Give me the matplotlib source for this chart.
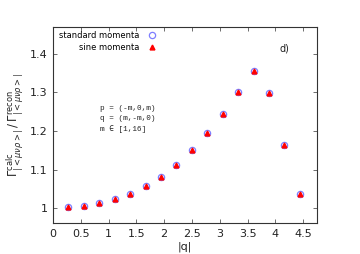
import matplotlib
matplotlib.use('Agg')
import matplotlib.pyplot as plt
from matplotlib.ticker import FuncFormatter, MultipleLocator

# |q| values for m = 1..16
q_abs = [0.278, 0.555, 0.833, 1.111, 1.388, 1.666, 1.944, 2.221,
         2.499, 2.777, 3.054, 3.332, 3.610, 3.887, 4.165, 4.443]
# ratio, standard momenta
ratio_standard = [1.003, 1.006, 1.013, 1.024, 1.038, 1.057, 1.082, 1.111,
                  1.150, 1.196, 1.245, 1.301, 1.355, 1.298, 1.163, 1.038]
# ratio, sine momenta
ratio_sine = [1.003, 1.006, 1.013, 1.024, 1.038, 1.057, 1.082, 1.111,
              1.150, 1.196, 1.245, 1.301, 1.355, 1.298, 1.163, 1.038]

fig = plt.figure(figsize=(3.6, 2.54), dpi=100)
ax = fig.add_axes([53 / 360, 1 - 223 / 254, (317 - 53) / 360, (223 - 27) / 254])

ax.plot(q_abs, ratio_standard, 'o', ms=4.5, mfc='none', mec='#7f7fff', mew=0.9,
        label='standard momenta')
ax.plot(q_abs, ratio_sine, '^', ms=3.5, color='red', mec='red',
        label='sine momenta')

ax.set_xlim(0, 4.75)
ax.set_ylim(0.962, 1.469)
ax.xaxis.set_major_locator(MultipleLocator(0.5))
ax.yaxis.set_major_locator(MultipleLocator(0.1))
fmt = FuncFormatter(lambda v, p: '%g' % round(v, 2))
ax.xaxis.set_major_formatter(fmt)
ax.yaxis.set_major_formatter(fmt)
ax.tick_params(direction='in', top=True, right=True, length=3, width=0.5,
               labelsize=8, colors='#333333', labelcolor='#222222', pad=4)
for s in ax.spines.values():
    s.set_linewidth(0.8)
    s.set_color('#333333')

ax.set_xlabel('|q|', fontsize=8, color='#222222', labelpad=2)
ax.set_ylabel(r'$\Gamma^{\rm calc}_{|<\mu\nu\rho>|}\,/\,\Gamma^{\rm recon}_{|<\mu\nu\rho>|}$',
              fontsize=8.5, color='#222222', labelpad=3)

ax.legend(loc='upper left', markerfirst=False, frameon=False, fontsize=6,
          handletextpad=1.0, borderaxespad=0.0, labelspacing=0.35,
          handlelength=1.0, bbox_to_anchor=(0.01, 0.995))

ax.text(0.85, 1.266, 'p = (-m,0,m)\nq = (m,-m,0)\nm \u2208 [1,16]',
        family=['Liberation Mono', 'DejaVu Sans Mono', 'DejaVu Sans'],
        fontsize=5.5, color='#222222', va='top', linespacing=1.5)
ax.text(4.07, 1.405, 'd)', fontsize=7, color='#222222')

fig.savefig('out.png', dpi=100)
